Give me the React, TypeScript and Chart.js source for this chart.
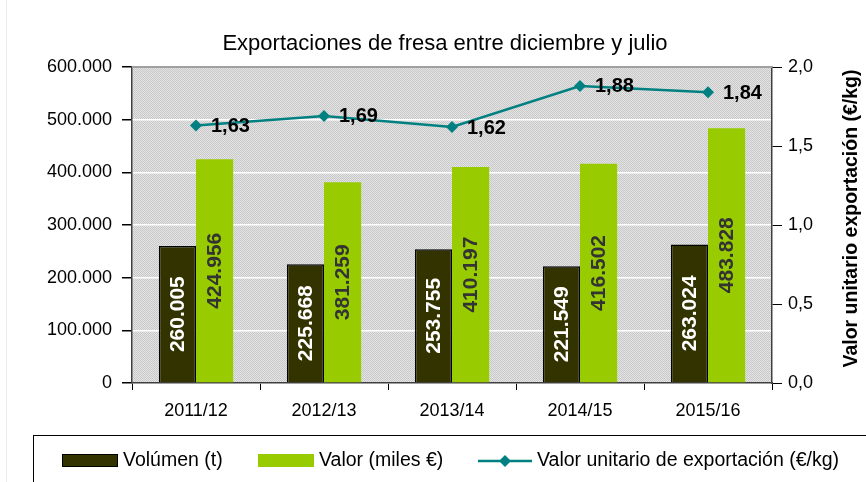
import React, { useEffect, useRef } from "react";
import { Chart, registerables } from "chart.js";

Chart.register(...registerables);

const categories = ["2011/12", "2012/13", "2013/14", "2014/15", "2015/16"];
const volumen = [260005, 225668, 253755, 221549, 263024];
const valor = [424956, 381259, 410197, 416502, 483828];
const unitario = [1.63, 1.69, 1.62, 1.88, 1.84];

const TITLE = "Exportaciones de fresa entre diciembre y julio";
const RIGHT_TITLE = "Valor unitario exportación (€/kg)";
const LEGEND_LABELS = ["Volúmen (t)", "Valor (miles €)", "Valor unitario de exportación (€/kg)"];

const FONT = "'Liberation Sans', Arial, sans-serif";
const DARK = "#333300";
const GREEN = "#99cc00";
const TEAL = "#008080";

const fmtThousands = (v: number) => String(Math.round(v)).replace(/\B(?=(\d{3})+(?!\d))/g, ".");
const fmtComma = (v: number, d: number) => v.toFixed(d).replace(".", ",");

export default function App() {
  const ref = useRef<HTMLCanvasElement | null>(null);

  useEffect(() => {
    document.body.style.margin = "0";
    const canvas = ref.current;
    if (!canvas) return;

    const pc = document.createElement("canvas");
    pc.width = 2;
    pc.height = 2;
    const pctx = pc.getContext("2d")!;
    pctx.fillStyle = "#e4e4e4";
    pctx.fillRect(0, 0, 2, 2);
    pctx.fillStyle = "#c8c8c8";
    pctx.fillRect(0, 0, 1, 1);
    pctx.fillRect(1, 1, 1, 1);

    const bgPlugin = {
      id: "bgPlugin",
      beforeDraw(chart: any) {
        const { ctx, chartArea: a } = chart;
        ctx.save();
        ctx.fillStyle = "#ffffff";
        ctx.fillRect(0, 0, chart.width, chart.height);
        ctx.strokeStyle = "#ececec";
        ctx.lineWidth = 1;
        ctx.beginPath();
        ctx.moveTo(6.5, 0);
        ctx.lineTo(6.5, chart.height);
        ctx.stroke();
        const pat = ctx.createPattern(pc, "repeat");
        ctx.fillStyle = pat;
        ctx.fillRect(a.left, a.top, a.right - a.left, a.bottom - a.top);
        ctx.restore();
      },
      afterDraw(chart: any) {
        const { ctx, chartArea: a } = chart;
        ctx.save();
        // top frame line
        ctx.strokeStyle = "#a0a0a0";
        ctx.lineWidth = 2;
        ctx.beginPath();
        ctx.moveTo(a.left, a.top);
        ctx.lineTo(a.right, a.top);
        ctx.stroke();
        // title
        ctx.fillStyle = "#000";
        ctx.font = `22px ${FONT}`;
        ctx.textAlign = "center";
        ctx.textBaseline = "alphabetic";
        ctx.fillText(TITLE, 445, 50);
        // right axis title
        ctx.save();
        ctx.translate(852, 218.5);
        ctx.rotate(-Math.PI / 2);
        ctx.textBaseline = "middle";
        ctx.font = `bold 19.5px ${FONT}`;
        ctx.fillText(RIGHT_TITLE, 0, 0);
        ctx.restore();
        // legend box
        ctx.strokeStyle = "#000";
        ctx.lineWidth = 1;
        ctx.strokeRect(33.5, 435.5, 900, 100);
        const ly = 461;
        ctx.font = `19.5px ${FONT}`;
        ctx.textAlign = "left";
        ctx.textBaseline = "middle";
        ctx.fillStyle = DARK;
        ctx.fillRect(62, 454, 56, 13);
        ctx.strokeStyle = "#000";
        ctx.strokeRect(62.5, 454.5, 55, 12);
        ctx.fillStyle = "#000";
        ctx.fillText(LEGEND_LABELS[0], 123, ly);
        ctx.fillStyle = GREEN;
        ctx.fillRect(258, 454, 56, 13);
        ctx.fillStyle = "#000";
        ctx.fillText(LEGEND_LABELS[1], 319, ly);
        ctx.strokeStyle = TEAL;
        ctx.lineWidth = 2.5;
        ctx.beginPath();
        ctx.moveTo(478, ly);
        ctx.lineTo(532, ly);
        ctx.stroke();
        ctx.fillStyle = TEAL;
        ctx.beginPath();
        ctx.moveTo(505, ly - 6);
        ctx.lineTo(511, ly);
        ctx.lineTo(505, ly + 6);
        ctx.lineTo(499, ly);
        ctx.closePath();
        ctx.fill();
        ctx.fillStyle = "#000";
        ctx.fillText(LEGEND_LABELS[2], 537, ly);
        ctx.restore();
      },
      afterDatasetsDraw(chart: any) {
        const { ctx } = chart;
        ctx.save();
        // bar labels
        [0, 1].forEach((di) => {
          const meta = chart.getDatasetMeta(di);
          const data = chart.data.datasets[di].data as number[];
          meta.data.forEach((bar: any, i: number) => {
            const cy = (bar.y + bar.base) / 2;
            ctx.save();
            ctx.translate(bar.x, cy);
            ctx.rotate(-Math.PI / 2);
            ctx.font = `bold 21px ${FONT}`;
            ctx.textAlign = "center";
            ctx.textBaseline = "middle";
            ctx.fillStyle = di === 0 ? "#ffffff" : "#333333";
            ctx.fillText(fmtThousands(data[i]), 0, 1);
            ctx.restore();
          });
        });
        // line labels
        const lm = chart.getDatasetMeta(2);
        const ld = chart.data.datasets[2].data as number[];
        ctx.font = `bold 20px ${FONT}`;
        ctx.textAlign = "left";
        ctx.textBaseline = "middle";
        ctx.fillStyle = "#000";
        lm.data.forEach((pt: any, i: number) => {
          ctx.fillText(fmtComma(ld[i], 2), pt.x + 15, pt.y + 1);
        });
        ctx.restore();
      },
    };

    const chart = new Chart(canvas, {
      type: "bar",
      data: {
        labels: categories,
        datasets: [
          {
            type: "bar",
            label: LEGEND_LABELS[0],
            data: volumen,
            backgroundColor: DARK,
            borderColor: "#000000",
            borderWidth: 1.5,
            yAxisID: "y",
            order: 1,
            categoryPercentage: 0.58,
            barPercentage: 1,
          },
          {
            type: "bar",
            label: LEGEND_LABELS[1],
            data: valor,
            backgroundColor: GREEN,
            borderWidth: 0,
            yAxisID: "y",
            order: 1,
            categoryPercentage: 0.58,
            barPercentage: 1,
          },
          {
            type: "line",
            label: LEGEND_LABELS[2],
            data: unitario,
            borderColor: TEAL,
            backgroundColor: TEAL,
            borderWidth: 2.5,
            pointStyle: "rectRot",
            pointRadius: 6,
            pointBorderWidth: 0,
            yAxisID: "y1",
            order: 0,
            tension: 0,
          },
        ],
      } as any,
      options: {
        responsive: false,
        animation: false,
        layout: { padding: { top: 67, left: 0, right: 0, bottom: 0 } },
        plugins: {
          legend: { display: false },
          title: { display: false },
          tooltip: { enabled: false },
        },
        scales: {
          x: {
            afterFit: (s: any) => {
              s.height = 99;
            },
            grid: {
              display: true,
              drawOnChartArea: false,
              drawTicks: true,
              tickLength: 7,
              color: "#000",
            },
            border: { display: true, color: "#404040", width: 1.5 },
            ticks: {
              color: "#000",
              font: { family: FONT, size: 18 },
              padding: 10,
              maxRotation: 0,
            },
          },
          y: {
            position: "left",
            min: 0,
            max: 600000,
            afterFit: (s: any) => {
              s.width = 132;
            },
            grid: {
              color: "#ffffff",
              lineWidth: 1.5,
              tickColor: "#000",
              tickLength: 10,
            },
            border: { display: true, color: "#404040", width: 1.5 },
            ticks: {
              stepSize: 100000,
              color: "#000",
              font: { family: FONT, size: 18 },
              padding: 10,
              callback: (v: any) => fmtThousands(Number(v)),
            },
          },
          y1: {
            position: "right",
            min: 0,
            max: 2,
            afterFit: (s: any) => {
              s.width = 94;
            },
            grid: {
              drawOnChartArea: false,
              tickColor: "#000",
              tickLength: 10,
            },
            border: { display: true, color: "#404040", width: 1.5 },
            ticks: {
              stepSize: 0.5,
              color: "#000",
              font: { family: FONT, size: 18 },
              padding: 6,
              callback: (v: any) => fmtComma(Number(v), 1),
            },
          },
        },
      } as any,
      plugins: [bgPlugin],
    });

    return () => chart.destroy();
  }, []);

  return (
    <div style={{ width: 866, height: 482 }}>
      <canvas ref={ref} width={866} height={482} style={{ display: "block" }} />
    </div>
  );
}
